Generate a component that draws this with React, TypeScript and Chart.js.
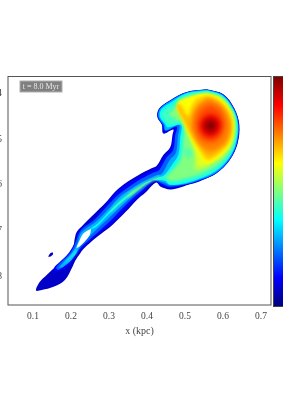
import React, { useEffect, useRef } from "react";
import { Chart, ScatterController, BarController, LineElement, PointElement, BarElement, LinearScale, CategoryScale, Filler } from "chart.js";

const softPlugin = {
  id: "soft",
  beforeDatasetDraw(c: any, args: any) {
    const b = c.data.datasets[args.index].blurPx;
    if (b) c.ctx.filter = `blur(${b}px)`;
  },
  afterDatasetDraw(c: any) { c.ctx.filter = "none"; },
};
Chart.register(ScatterController, BarController, LineElement, PointElement, BarElement, LinearScale, CategoryScale, softPlugin, Filler);

const xTicks = [0.1, 0.2, 0.3, 0.4, 0.5, 0.6, 0.7];
const yTicks = [0.4, 0.5, 0.6, 0.7, 0.8];
const xTitle = "x (kpc)";
const timeLabel = "t = 8.0 Myr";
const jetStops = ["#00007f", "#0000ff", "#007fff", "#00ffff", "#7fff7f", "#ffff00", "#ff7f00", "#ff0000", "#7f0000"];

type P = [number, number];
const band0: P[] = [[.557,.391],[.601,.402],[.630,.433],[.643,.469],[.638,.511],[.618,.546],[.583,.575],[.539,.592],[.504,.601],[.487,.606],[.461,.610],[.436,.604],[.424,.595],[.396,.617],[.373,.633],[.344,.659],[.311,.686],[.281,.706],[.254,.724],[.232,.741],[.224,.750],[.211,.766],[.204,.779],[.184,.808],[.154,.823],[.123,.830],[.108,.831],[.118,.812],[.136,.797],[.154,.783],[.175,.768],[.193,.753],[.206,.735],[.210,.717],[.215,.703],[.228,.691],[.263,.662],[.289,.641],[.316,.615],[.342,.597],[.377,.579],[.412,.564],[.425,.559],[.443,.535],[.461,.518],[.467,.491],[.469,.479],[.443,.488],[.439,.469],[.427,.451],[.432,.433],[.461,.415],[.504,.397],[.557,.391]];
const band1: P[] = [[.557,.3915],[.6005,.4025],[.6295,.4335],[.642,.469],[.637,.511],[.6175,.5455],[.5825,.5745],[.539,.591],[.5035,.600],[.485,.604],[.461,.607],[.438,.601],[.420,.593],[.392,.615],[.369,.631],[.340,.657],[.308,.684],[.277,.704],[.251,.722],[.229,.739],[.211,.754],[.197,.775],[.162,.790],[.156,.781],[.169,.770],[.195,.748],[.211,.724],[.218,.704],[.231,.692],[.257,.676],[.292,.643],[.318,.617],[.345,.600],[.380,.582],[.415,.567],[.428,.562],[.447,.537],[.463,.520],[.469,.493],[.473,.476],[.445,.486],[.440,.469],[.428,.451],[.433,.434],[.462,.4155],[.504,.3975],[.557,.3915]];
const band2: P[] = [[.557,.392],[.600,.403],[.629,.434],[.641,.469],[.636,.511],[.617,.545],[.582,.574],[.538,.590],[.503,.599],[.461,.604],[.441,.598],[.417,.591],[.386,.613],[.362,.630],[.331,.655],[.301,.681],[.273,.702],[.247,.721],[.226,.737],[.208,.756],[.193,.770],[.167,.786],[.161,.781],[.175,.768],[.199,.748],[.213,.724],[.222,.705],[.234,.693],[.261,.677],[.296,.646],[.323,.623],[.350,.606],[.385,.587],[.418,.573],[.432,.568],[.452,.540],[.469,.524],[.474,.493],[.478,.473],[.449,.482],[.442,.469],[.429,.451],[.434,.434],[.462,.416],[.504,.398],[.557,.392]];
const band3: P[] = [[.557,.3925],[.599,.404],[.628,.435],[.640,.469],[.635,.510],[.616,.544],[.581,.573],[.5375,.589],[.5025,.598],[.461,.601],[.445,.595],[.413,.590],[.380,.610],[.354,.630],[.322,.655],[.294,.677],[.268,.697],[.243,.717],[.224,.735],[.202,.764],[.180,.779],[.169,.781],[.184,.766],[.204,.748],[.217,.728],[.224,.708],[.237,.697],[.265,.681],[.301,.651],[.327,.627],[.355,.611],[.390,.593],[.425,.579],[.439,.576],[.459,.547],[.476,.530],[.481,.495],[.484,.469],[.449,.481],[.445,.468],[.431,.451],[.435,.434],[.463,.417],[.504,.399],[.557,.3925]];
const band4: P[] = [[.557,.394],[.598,.405],[.627,.436],[.6385,.469],[.633,.510],[.614,.543],[.579,.571],[.537,.587],[.502,.596],[.461,.600],[.447,.591],[.408,.591],[.373,.610],[.345,.630],[.316,.651],[.289,.673],[.268,.691],[.250,.697],[.272,.683],[.304,.655],[.331,.635],[.360,.617],[.396,.598],[.430,.584],[.443,.581],[.465,.557],[.482,.535],[.487,.498],[.489,.469],[.454,.474],[.447,.466],[.434,.451],[.438,.435],[.465,.419],[.505,.400],[.557,.394]];
const band4b: P[] = [[.215,.739],[.193,.761],[.180,.773],[.196,.764],[.215,.748],[.215,.739]];
const band5: P[] = [[.557,.396],[.596,.407],[.625,.437],[.636,.469],[.631,.509],[.612,.541],[.577,.568],[.535,.584],[.500,.592],[.460,.596],[.447,.587],[.412,.591],[.377,.606],[.351,.625],[.325,.644],[.303,.662],[.310,.651],[.333,.632],[.362,.613],[.399,.595],[.445,.581],[.469,.562],[.487,.539],[.492,.502],[.494,.467],[.458,.469],[.451,.462],[.439,.450],[.443,.439],[.469,.424],[.508,.403],[.557,.396]];
const band6: P[] = [[.557,.399],[.593,.410],[.621,.439],[.632,.469],[.626,.508],[.607,.539],[.572,.563],[.532,.578],[.500,.585],[.469,.590],[.452,.585],[.474,.564],[.491,.542],[.497,.506],[.497,.469],[.478,.458],[.460,.445],[.478,.431],[.515,.411],[.557,.399]];
const band6b: P[] = [[.434,.584],[.395,.601],[.355,.625],[.348,.628],[.360,.615],[.399,.595],[.434,.582],[.434,.584]];
const patch6: P[] = [[.506,.518],[.517,.524],[.520,.535],[.509,.540],[.497,.535],[.495,.524],[.506,.518]];
const band7: P[] = [[.561,.401],[.594,.410],[.622,.438],[.631,.469],[.623,.508],[.602,.535],[.567,.557],[.538,.568],[.522,.564],[.526,.546],[.517,.513],[.504,.488],[.491,.455],[.476,.435],[.504,.416],[.530,.406],[.561,.401]];
const band8: P[] = [[.561,.402],[.593,.411],[.621,.439],[.629,.469],[.622,.508],[.601,.533],[.566,.553],[.544,.560],[.532,.555],[.530,.535],[.522,.509],[.509,.480],[.495,.451],[.481,.431],[.509,.413],[.535,.404],[.561,.402]];
const band9: P[] = [[.482,.416],[.518,.406],[.559,.402],[.592,.412],[.619,.440],[.627,.470],[.620,.508],[.599,.531],[.570,.550],[.555,.552],[.538,.531],[.515,.498],[.497,.462],[.480,.428],[.482,.416]];
const band10: P[] = [[.530,.411],[.561,.406],[.590,.416],[.617,.442],[.624,.470],[.617,.505],[.596,.528],[.570,.544],[.557,.546],[.538,.524],[.517,.495],[.497,.462],[.478,.428],[.485,.423],[.498,.447],[.507,.450],[.515,.430],[.530,.411]];
const band11: P[] = [[.557,.411],[.588,.422],[.611,.444],[.620,.472],[.613,.501],[.592,.522],[.567,.537],[.557,.535],[.539,.513],[.522,.489],[.501,.457],[.482,.428],[.487,.426],[.506,.451],[.522,.469],[.524,.447],[.537,.426],[.557,.411]];
const band12: P[] = [[.561,.412],[.590,.424],[.610,.447],[.618,.472],[.610,.502],[.588,.520],[.561,.525],[.537,.510],[.520,.482],[.518,.455],[.532,.428],[.561,.412]];
const band13: P[] = [[.566,.424],[.592,.437],[.604,.469],[.592,.497],[.566,.507],[.540,.497],[.528,.469],[.540,.438],[.566,.424]];
const band14: P[] = [[.567,.445],[.587,.453],[.595,.471],[.585,.489],[.566,.496],[.548,.489],[.539,.471],[.549,.453],[.567,.445]];
const band15: P[] = [[.567,.455],[.580,.461],[.584,.472],[.578,.482],[.567,.486],[.555,.482],[.550,.471],[.556,.460],[.567,.455]];
const band16: P[] = [[.567,.464],[.574,.467],[.575,.473],[.568,.477],[.561,.474],[.559,.469],[.567,.464]];
const hole: P[] = [[.253,.696],[.233,.706],[.219,.728],[.215,.738],[.229,.730],[.249,.710],[.253,.696]];
const blob: P[] = [[.140,.757],[.145,.750],[.152,.748],[.152,.753],[.145,.757],[.140,.757]];

const bands: P[][] = [band0, blob, band1, band2, band3, band4, band4b, band5, band6, band6b, patch6, band7, band8, band9, band10, band11, band12, band13, band14, band15, band16, hole];
const bandColors = ["#0000c8", "#0000c8", "#0000ff", "#0060ff", "#00b0ff", "#08fff0", "#20e8ff", "#40ffc0", "#80ff80", "#80ff80", "#58ffa8", "#b0ff50", "#e0ff20", "#ffff00", "#ffd000", "#ffa800", "#ff8000", "#ff4800", "#e80000", "#a80000", "#800000", "#ffffff"];
const bandBlur = [0.4, 0.4, 0.4, 0.5, 0.6, 0.7, 1, 0.9, 1.2, 1, 1.5, 1.5, 1.5, 1.5, 1.5, 2, 2, 2.5, 2.5, 2, 1.5, 0.5];

const X_MIN = 0.0342, X_MAX = 0.7263, Y_MIN = 0.3633, Y_MAX = 0.8627;
const INK = "#444444";
const FONT = "'Liberation Serif', serif";

export default function App() {
  const mainRef = useRef<HTMLCanvasElement>(null);
  const barRef = useRef<HTMLCanvasElement>(null);

  useEffect(() => {
    const framePlugin = {
      id: "frame",
      afterDraw(c: any) {
        const { ctx, chartArea: a } = c;
        ctx.save();
        ctx.strokeStyle = "#555555";
        ctx.lineWidth = 1;
        ctx.strokeRect(a.left, a.top, a.right - a.left, a.bottom - a.top);
        ctx.fillStyle = "#808080";
        ctx.strokeStyle = "#b0b0b0";
        ctx.fillRect(20, 81, 42, 11);
        ctx.strokeRect(20, 81, 42, 11);
        ctx.fillStyle = "#e8e8e8";
        ctx.font = "8px " + FONT;
        ctx.textAlign = "center";
        ctx.textBaseline = "middle";
        ctx.fillText(timeLabel, 41, 86.5);
        ctx.restore();
      },
    };
    const chart = new Chart(mainRef.current!, {
      type: "scatter",
      data: {
        datasets: bands.map((b, i) => ({
          data: b.map(([x, y]) => ({ x, y })),
          showLine: true,
          fill: "shape",
          tension: 0.35,
          borderWidth: 0,
          borderColor: bandColors[i],
          backgroundColor: bandColors[i],
          pointRadius: 0,
          order: bands.length - i,
          blurPx: bandBlur[i],
        })),
      } as any,
      options: {
        animation: false,
        responsive: false,
        events: [],
        layout: { padding: { left: 0, right: 12, top: 76.5, bottom: 77 } },
        scales: {
          x: {
            type: "linear",
            min: X_MIN,
            max: X_MAX,
            afterBuildTicks: (s: any) => { s.ticks = xTicks.map((value) => ({ value })); },
            afterFit: (s: any) => { s.height = 32; },
            grid: { display: false, drawTicks: true, tickLength: 5, tickColor: INK },
            border: { display: false },
            ticks: { color: INK, font: { family: FONT, size: 9.5 }, padding: 1, maxRotation: 0, callback: (v: any) => Number(v).toFixed(1) },
            title: { display: true, text: xTitle, color: INK, font: { family: FONT, size: 10 }, padding: { top: 3, bottom: 0 } },
          },
          y: {
            type: "linear",
            reverse: true,
            min: Y_MIN,
            max: Y_MAX,
            afterBuildTicks: (s: any) => { s.ticks = yTicks.map((value) => ({ value })); },
            afterFit: (s: any) => { s.width = 8; },
            grid: { display: false, drawTicks: true, tickLength: 5, tickColor: INK },
            border: { display: false },
            ticks: { color: INK, font: { family: FONT, size: 9.5 }, padding: 1, callback: (v: any) => Number(v).toFixed(1) },
          },
        },
      },
      plugins: [framePlugin],
    } as any);

    const bar = new Chart(barRef.current!, {
      type: "bar",
      data: {
        labels: ["scale"],
        datasets: [{
          data: [1],
          barPercentage: 1,
          categoryPercentage: 1,
          backgroundColor: (ctx: any) => {
            const a = ctx.chart.chartArea;
            if (!a) return jetStops[0];
            const g = ctx.chart.ctx.createLinearGradient(0, a.bottom, 0, a.top);
            jetStops.forEach((c, i) => g.addColorStop(i / (jetStops.length - 1), c));
            return g;
          },
        }],
      },
      options: {
        indexAxis: "y",
        animation: false,
        responsive: false,
        events: [],
        layout: { padding: 0 },
        scales: { x: { display: false, min: 0, max: 1 }, y: { display: false } },
      },
    } as any);

    return () => { chart.destroy(); bar.destroy(); };
  }, []);

  return (
    <div style={{ position: "fixed", left: 0, top: 0, width: 283, height: 414, overflow: "hidden", background: "#fff" }}>
      <canvas ref={mainRef} width={283} height={414} style={{ position: "absolute", left: 0, top: 0, display: "block" }} />
      <div style={{ position: "absolute", left: 273, top: 76, width: 14, height: 229, border: "1px solid #444", boxSizing: "content-box" }}>
        <canvas ref={barRef} width={14} height={229} style={{ display: "block" }} />
      </div>
    </div>
  );
}
